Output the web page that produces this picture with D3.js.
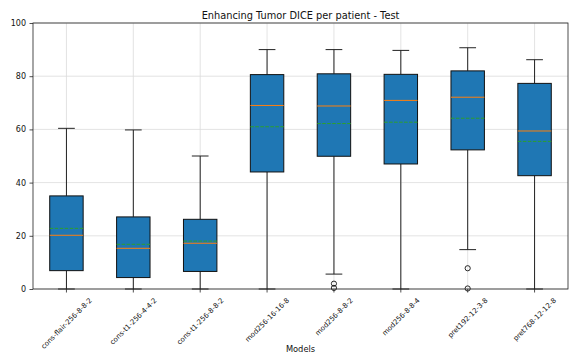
<!DOCTYPE html>
<html>
<head>
<meta charset="utf-8">
<script src="https://cdn.jsdelivr.net/npm/d3@7"></script>
<style>
  body { margin: 0; background: #fff; }
  svg { display: block; font-family: "DejaVu Sans", sans-serif; }
</style>
</head>
<body>
<div id="chart"></div>
<script>
// Box statistics (DICE, %)
const models = ["cons-flair-256-8-8-2", "cons-t1-256-4-4-2", "cons-t1-256-8-8-2", "mod256-16-16-8",
    "mod256-8-8-2", "mod256-8-8-4", "pret192-12-3-8", "pret768-12-12-8"];
const whiskerLow = [0, 0, 0, 0, 5.6, 0, 14.8, 0];
const q1 = [6.9, 4.3, 6.6, 44.0, 49.9, 47.0, 52.3, 42.6];
const medians = [20.2, 15.3, 17.2, 69.0, 68.8, 70.9, 72.1, 59.4];
const means = [22.8, 16.8, 18.0, 61.0, 62.2, 62.7, 64.2, 55.5];
const q3 = [35.0, 27.1, 26.2, 80.6, 80.9, 80.7, 82.0, 77.3];
const whiskerHigh = [60.4, 59.8, 50.0, 90.0, 90.0, 89.7, 90.7, 86.2];
const outliers = [[], [], [], [], [2.0, 0.4], [], [7.8, 0.2], []];
const yTicks = [0, 20, 40, 60, 80, 100];

const width = 571;
const height = 356;
const margin = { top: 23, right: 3, bottom: 67, left: 33 };

const svg = d3.select("#chart")
    .append("svg")
    .attr("width", width)
    .attr("height", height);

const x = d3.scaleBand()
    .domain(models)
    .range([margin.left, width - margin.right])
    .paddingInner(0)
    .paddingOuter(0);

const y = d3.scaleLinear()
    .domain([0, 100])
    .range([height - margin.bottom, margin.top]);

const cx = d => x(d) + x.bandwidth() / 2;
const boxW = x.bandwidth() * 0.5;
const capW = boxW * 0.5;

// grid lines, under the boxes
const grid = svg.append("g").attr("stroke", "#dcdcdc").attr("stroke-width", 0.8);
grid.selectAll(".gy")
    .data(yTicks)
    .join("line")
    .attr("x1", margin.left).attr("x2", width - margin.right)
    .attr("y1", d => y(d)).attr("y2", d => y(d));
grid.selectAll(".gx")
    .data(models)
    .join("line")
    .attr("x1", d => cx(d)).attr("x2", d => cx(d))
    .attr("y1", margin.top).attr("y2", height - margin.bottom);

const rows = models.map((m, i) => ({
    m, lo: whiskerLow[i], q1: q1[i], med: medians[i], mean: means[i], q3: q3[i], hi: whiskerHigh[i], out: outliers[i]
}));

const g = svg.append("g");
const items = g.selectAll(".box").data(rows).join("g").attr("class", "box");

// whiskers
items.append("line")
    .attr("x1", d => cx(d.m)).attr("x2", d => cx(d.m))
    .attr("y1", d => y(d.q3)).attr("y2", d => y(d.hi))
    .attr("stroke", "#222").attr("stroke-width", 1);
items.append("line")
    .attr("x1", d => cx(d.m)).attr("x2", d => cx(d.m))
    .attr("y1", d => y(d.q1)).attr("y2", d => y(d.lo))
    .attr("stroke", "#222").attr("stroke-width", 1);
// caps
items.append("line")
    .attr("x1", d => cx(d.m) - capW / 2).attr("x2", d => cx(d.m) + capW / 2)
    .attr("y1", d => y(d.hi)).attr("y2", d => y(d.hi))
    .attr("stroke", "#222").attr("stroke-width", 1);
items.append("line")
    .attr("x1", d => cx(d.m) - capW / 2).attr("x2", d => cx(d.m) + capW / 2)
    .attr("y1", d => y(d.lo)).attr("y2", d => y(d.lo))
    .attr("stroke", "#222").attr("stroke-width", 1);

// box
items.append("rect")
    .attr("x", d => cx(d.m) - boxW / 2)
    .attr("width", boxW)
    .attr("y", d => y(d.q3))
    .attr("height", d => y(d.q1) - y(d.q3))
    .attr("fill", "#1f77b4")
    .attr("stroke", "#111")
    .attr("stroke-width", 1);

// median
items.append("line")
    .attr("x1", d => cx(d.m) - boxW / 2).attr("x2", d => cx(d.m) + boxW / 2)
    .attr("y1", d => y(d.med)).attr("y2", d => y(d.med))
    .attr("stroke", "#ff7f0e").attr("stroke-width", 1);

// mean (dashed)
items.append("line")
    .attr("x1", d => cx(d.m) - boxW / 2).attr("x2", d => cx(d.m) + boxW / 2)
    .attr("y1", d => y(d.mean)).attr("y2", d => y(d.mean))
    .attr("stroke", "#2ca02c").attr("stroke-width", 1)
    .attr("stroke-dasharray", "3.5,1.5");

// fliers
items.selectAll("circle")
    .data(d => d.out.map(v => ({ m: d.m, v })))
    .join("circle")
    .attr("cx", d => cx(d.m))
    .attr("cy", d => y(d.v))
    .attr("r", 2.6)
    .attr("fill", "none")
    .attr("stroke", "#111")
    .attr("stroke-width", 0.9);

// axes frame
svg.append("rect")
    .attr("x", margin.left).attr("y", margin.top)
    .attr("width", width - margin.left - margin.right)
    .attr("height", height - margin.top - margin.bottom)
    .attr("fill", "none")
    .attr("stroke", "#222")
    .attr("stroke-width", 0.8);

// y axis
const yAxis = svg.append("g")
    .attr("transform", `translate(${margin.left},0)`)
    .call(d3.axisLeft(y).tickValues(yTicks).tickSize(3.5).tickPadding(3.5));
yAxis.select(".domain").remove();
yAxis.selectAll("line").attr("stroke", "#222").attr("stroke-width", 0.8);
yAxis.selectAll("text").attr("font-size", 8).attr("fill", "#111").attr("font-family", "DejaVu Sans");

// x axis
const xAxis = svg.append("g")
    .attr("transform", `translate(0,${height - margin.bottom})`)
    .call(d3.axisBottom(x).tickSize(3.5).tickSizeOuter(0));
xAxis.select(".domain").remove();
xAxis.selectAll("line").attr("stroke", "#222").attr("stroke-width", 0.8);
xAxis.selectAll("text")
    .attr("font-size", 7)
    .attr("font-family", "DejaVu Sans")
    .attr("fill", "#111")
    .attr("text-anchor", "middle")
    .attr("dy", "0.35em")
    .each(function () {
        // rotated 45deg, bounding box centred on the tick, top just below it
        const len = this.getComputedTextLength();
        const half = (len * Math.SQRT1_2) / 2 + 2;
        d3.select(this).attr("transform", `translate(0,${8 + half}) rotate(-45)`).attr("y", 0);
    });

// title and axis label
svg.append("text")
    .attr("x", (margin.left + width - margin.right) / 2)
    .attr("y", 19)
    .attr("text-anchor", "middle")
    .attr("font-size", 9.8)
    .attr("fill", "#111")
    .text("Enhancing Tumor DICE per patient - Test");

svg.append("text")
    .attr("x", (margin.left + width - margin.right) / 2)
    .attr("y", 352)
    .attr("text-anchor", "middle")
    .attr("font-size", 8.3)
    .attr("fill", "#111")
    .text("Models");
</script>
</body>
</html>
